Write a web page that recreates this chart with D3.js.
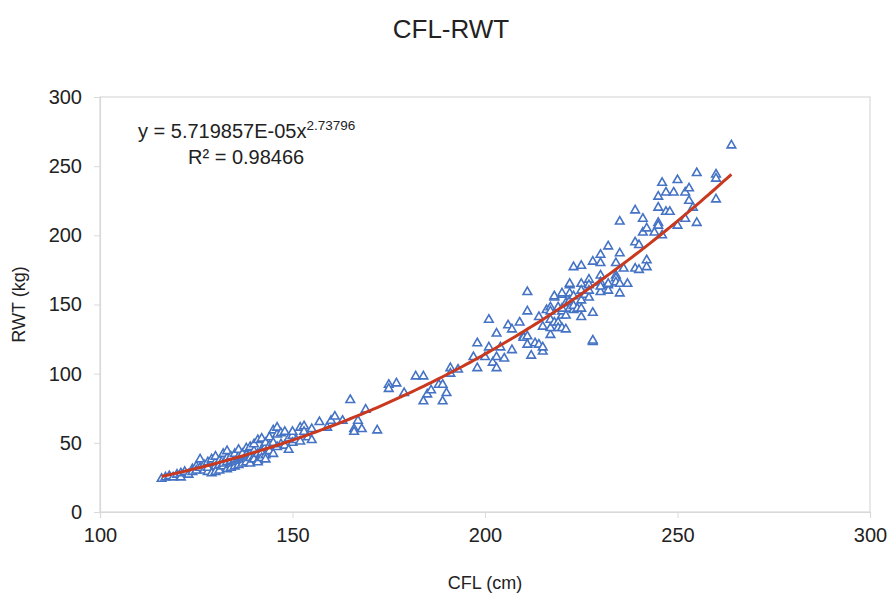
<!DOCTYPE html>
<html>
<head>
<meta charset="utf-8">
<script src="https://cdn.jsdelivr.net/npm/d3@7"></script>
<style>
  body { margin: 0; background: #fff; }
  svg text { font-family: "Liberation Sans", Arial, sans-serif; fill: #222; }
</style>
</head>
<body>
<div id="chart"></div>
<script>
// CFL (cm) of each fish
const cfl = [116,117,118,119,120,121,121,122,123,124,124,125,125,126,126,127,127,128,128,128,
  129,129,129,130,130,130,130,131,131,131,132,132,132,132,133,133,133,133,134,134,
  134,134,135,135,135,135,136,136,136,136,137,137,137,137,138,138,138,138,139,139,
  139,139,140,140,140,140,141,141,141,141,142,142,142,142,143,143,143,143,144,144,
  144,145,145,145,146,146,146,147,147,148,148,149,149,150,150,150,
  151,152,152,153,153,154,155,155,157,159,160,161,163,165,166,166,167,168,169,172,175,175,177,
  179,182,184,184,185,186,188,189,190,189,191,191,193,197,198,198,200,201,201,202,203,203,203,
  204,205,206,207,207,209,210,210,211,211,211,211,212,213,214,214,215,215,215,216,217,217,217,
  217,217,218,218,218,219,219,219,220,220,220,220,220,220,221,221,221,222,222,222,222,222,223,
  223,223,223,224,225,225,225,225,225,225,226,227,227,227,227,228,228,228,228,230,230,230,230,
  230,230,232,232,232,232,234,234,234,234,235,235,235,235,236,237,239,239,239,240,240,241,241,
  242,242,242,244,245,245,245,245,246,246,247,247,248,249,250,250,252,252,253,253,254,255,255,
  260,260,260,264];
// RWT (kg) of each fish
const rwt = [24,25,26,25,27,25,28,29,27,31,29,33,30,32,38,34,30,36,29,32,
  35,38,28,33,36,29,40,34,37,30,38,33,42,35,36,31,39,44,34,37,
  40,32,38,35,42,33,40,36,45,34,39,37,42,35,41,38,46,36,42,39,
  47,35,44,40,38,49,42,52,37,36,45,43,39,53,47,41,50,38,48,44,
  54,50,59,42,47,56,61,57,49,58,48,53,45,55,58,50,
  52,51,61,62,58,54,52,60,65,61,66,69,66,81,60,58,66,60,74,59,92,89,93,
  86,98,98,80,85,88,92,80,86,92,104,100,103,112,104,122,112,139,119,108,104,129,112,
  119,111,135,117,132,137,127,126,159,145,127,121,113,122,121,141,116,134,119,146,128,148,145,
  139,133,155,156,137,137,133,148,157,158,142,133,145,147,132,142,151,164,165,158,153,147,146,
  156,177,149,147,178,165,153,147,141,160,157,168,164,155,160,181,144,123,124,186,180,171,166,
  159,163,192,164,160,165,180,171,169,166,210,187,165,158,176,165,218,195,176,193,175,212,202,
  205,182,177,202,228,220,209,207,238,200,231,217,217,231,240,207,231,212,234,225,220,245,209,
  244,241,226,265];

const xTicks = [100, 150, 200, 250, 300];
const yTicks = [0, 50, 100, 150, 200, 250, 300];

// power trendline shown on the chart: y = a * x^b
const fitA = 5.719857e-5;
const fitB = 2.73796;
const fitRange = [116, 264];

const W = 892, H = 597;
const margin = {top: 97, right: 22, bottom: 85, left: 100};
const w = W - margin.left - margin.right;
const h = H - margin.top - margin.bottom;

const svg = d3.select('#chart').append('svg')
  .attr('width', W).attr('height', H);

const x = d3.scaleLinear().domain([100, 300]).range([0, w]);
const y = d3.scaleLinear().domain([0, 300]).range([h, 0]);

const g = svg.append('g')
  .attr('transform', 'translate(' + margin.left + ',' + margin.top + ')');

// plot frame
g.append('rect')
  .attr('width', w).attr('height', h)
  .attr('fill', 'none').attr('stroke', '#d9d9d9').attr('stroke-width', 1.2);

// axes
const xAxis = g.append('g')
  .attr('transform', 'translate(0,' + h + ')')
  .call(d3.axisBottom(x).tickValues(xTicks).tickSize(6).tickPadding(10));
const yAxis = g.append('g')
  .call(d3.axisLeft(y).tickValues(yTicks).tickSize(6).tickPadding(12));
[xAxis, yAxis].forEach(a => {
  a.select('.domain').attr('stroke', '#d9d9d9').attr('stroke-width', 1.2);
  a.selectAll('.tick line').attr('stroke', '#d9d9d9');
  a.selectAll('.tick text')
    .style('font-family', '"Liberation Sans", Arial, sans-serif')
    .style('font-size', '20px').attr('fill', '#222');
});

// points
const pts = cfl.map((c, i) => ({c: c, r: rwt[i]}));
g.append('g').selectAll('path')
  .data(pts)
  .enter()
  .append('path')
  .attr('d', d3.symbol().type(d3.symbolTriangle).size(32))
  .attr('transform', d => 'translate(' + x(d.c) + ',' + y(d.r) + ')')
  .attr('fill', '#fff')
  .attr('stroke', '#4472c4')
  .attr('stroke-width', 1.6);

// trendline
const fitX = d3.range(fitRange[0], fitRange[1] + 0.5, 1);
g.append('path')
  .datum(fitX)
  .attr('d', d3.line().x(d => x(d)).y(d => y(fitA * Math.pow(d, fitB))))
  .attr('fill', 'none')
  .attr('stroke', '#c9391f')
  .attr('stroke-width', 3);

// equation
const eq = svg.append('text')
  .attr('x', 138).attr('y', 138)
  .style('font-size', '20px');
eq.append('tspan').text('y = 5.719857E-05x');
eq.append('tspan').attr('dy', -8).style('font-size', '13.5px').text('2.73796');
svg.append('text')
  .attr('x', 188).attr('y', 164)
  .style('font-size', '20px')
  .text('R² = 0.98466');

// titles
svg.append('text')
  .attr('x', 451).attr('y', 38)
  .attr('text-anchor', 'middle')
  .style('font-size', '26px')
  .text('CFL-RWT');
svg.append('text')
  .attr('x', margin.left + w / 2).attr('y', 589)
  .attr('text-anchor', 'middle')
  .style('font-size', '18px')
  .text('CFL (cm)');
svg.append('text')
  .attr('transform', 'translate(25,' + (margin.top + h / 2) + ') rotate(-90)')
  .attr('text-anchor', 'middle')
  .style('font-size', '18px')
  .text('RWT (kg)');
</script>
</body>
</html>
